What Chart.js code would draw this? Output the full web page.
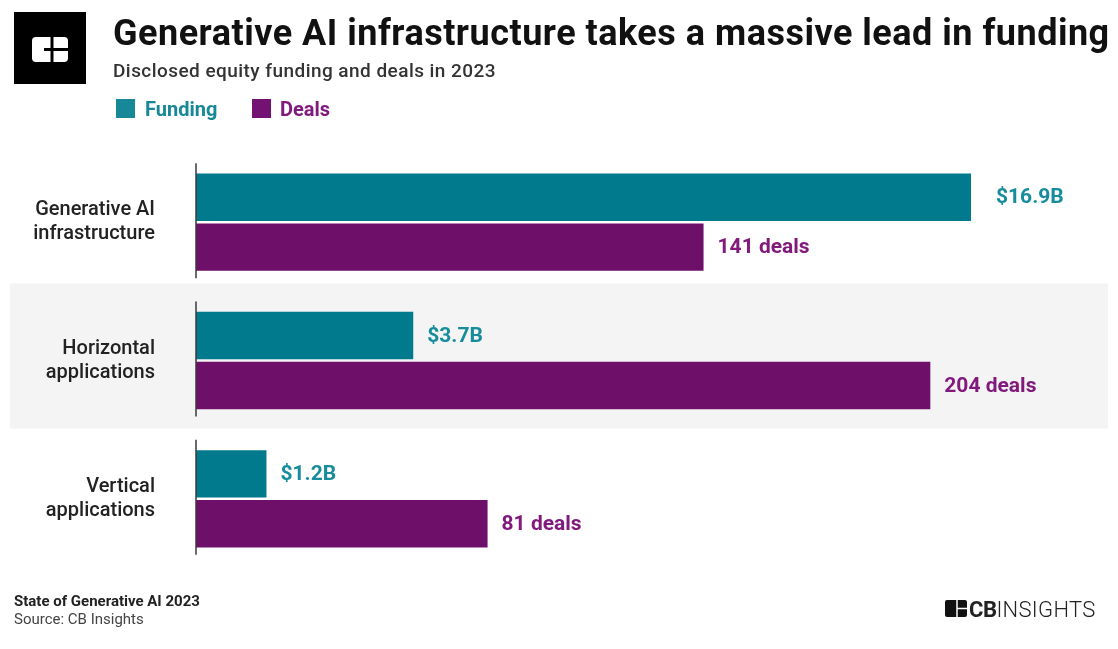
<!DOCTYPE html>
<html>
<head>
<meta charset="utf-8">
<script src="https://cdn.jsdelivr.net/npm/chart.js@4"></script>
<style>
  html, body { margin: 0; padding: 0; background: #fff; }
  body { width: 1118px; height: 649px; position: relative; overflow: hidden; font-family: Roboto, "Noto Sans", sans-serif; }
  .abs { position: absolute; line-height: 1; white-space: nowrap; }
  #wrap { position: absolute; left: 0; top: 0; width: 1118px; height: 649px; }
  .title { left: 113px; top: 15px; font-size: 36px; font-weight: 700; color: #111; letter-spacing: 0.5px; }
  .subtitle { left: 113px; top: 61px; font-size: 19px; font-weight: 500; color: #333; letter-spacing: 0.45px; }
  .legend { top: 99px; font-size: 20px; font-weight: 700; }
  .swatch { position: absolute; width: 19px; height: 19px; top: 99px; }
  .foot1 { left: 14px; top: 594px; font-size: 15px; font-weight: 700; color: #222; }
  .foot2 { left: 14px; top: 612px; font-size: 15px; color: #444; }
  .brand { left: 969px; top: 599px; font-size: 22px; color: #222; letter-spacing: 0.3px; }
  .brand b { font-weight: 700; letter-spacing: -0.5px; }
  .brand span { font-weight: 300; }
</style>
</head>
<body>
<div id="wrap"><canvas id="chart"></canvas></div>

<svg class="abs" style="left:14px;top:12px" width="72" height="72">
  <rect width="72" height="72" fill="#000"/>
  <rect x="18" y="25" width="36" height="25" rx="4" fill="#fff"/>
  <line x1="38" y1="25" x2="38" y2="50" stroke="#000" stroke-width="3"/>
  <line x1="30" y1="37.5" x2="54" y2="37.5" stroke="#000" stroke-width="3"/>
</svg>
<div class="abs title">Generative AI infrastructure takes a massive lead in funding</div>
<div class="abs subtitle">Disclosed equity funding and deals in 2023</div>
<div class="swatch" style="left:116px;background:#178898"></div>
<div class="abs legend" style="left:145px;color:#178898">Funding</div>
<div class="swatch" style="left:252px;background:#741274"></div>
<div class="abs legend" style="left:280px;color:#801a7c">Deals</div>

<div class="abs foot1">State of Generative AI 2023</div>
<div class="abs foot2">Source: CB Insights</div>
<svg class="abs" style="left:945px;top:600px" width="22" height="17">
  <rect width="22" height="17" rx="2" fill="#111"/>
  <line x1="12" y1="0" x2="12" y2="17" stroke="#fff" stroke-width="1.5"/>
  <line x1="12" y1="8.5" x2="22" y2="8.5" stroke="#fff" stroke-width="1.5"/>
</svg>
<div class="abs brand"><b>CB</b><span>INSIGHTS</span></div>

<script>
const categories = [
  ['Generative AI', 'infrastructure'],
  ['Horizontal', 'applications'],
  ['Vertical', 'applications']
];
const fundingBillions = [16.9, 3.7, 1.2];
const dealCounts = [141, 204, 81];

const TEAL = '#007a8c';
const PURPLE = '#6e0f6a';
const TEAL_TEXT = '#178c9c';
const PURPLE_TEXT = '#821a7d';

// light grey band behind the middle row (drawn before the axes so the
// category labels stay on top), plus a short axis stub per row
const rowDecor = {
  id: 'rowDecor',
  beforeDraw(chart) {
    const { ctx, scales: { y } } = chart;
    ctx.save();
    ctx.fillStyle = '#f4f4f4';
    categories.forEach((c, i) => {
      if (i % 2 === 1) {
        const cy = y.getPixelForValue(i);
        ctx.fillRect(10, cy - 77, 1098, 145);
      }
    });
    ctx.restore();
  },
  afterDatasetsDraw(chart) {
    const { ctx, chartArea, scales: { y } } = chart;
    ctx.save();
    ctx.strokeStyle = '#3a3a3a';
    ctx.lineWidth = 1.5;
    categories.forEach((c, i) => {
      const cy = y.getPixelForValue(i);
      ctx.beginPath();
      ctx.moveTo(chartArea.left, cy - 59);
      ctx.lineTo(chartArea.left, cy + 56);
      ctx.stroke();
    });
    ctx.restore();
  }
};

// value labels at the end of each bar
const barLabels = {
  id: 'barLabels',
  afterDatasetsDraw(chart) {
    const { ctx, chartArea } = chart;
    ctx.save();
    ctx.font = 'bold 21px Roboto';
    ctx.textBaseline = 'middle';
    ctx.textAlign = 'left';
    chart.data.datasets.forEach((ds, di) => {
      const meta = chart.getDatasetMeta(di);
      ctx.fillStyle = ds.labelColor;
      meta.data.forEach((bar, i) => {
        const clipped = bar.x > chartArea.right;
        const x = clipped ? chartArea.right + 25 : bar.x + 14;
        ctx.fillText(ds.formatLabel(ds.data[i]), x, bar.y + 1);
      });
    });
    ctx.restore();
  }
};

new Chart(document.getElementById('chart'), {
  type: 'bar',
  data: {
    labels: categories,
    datasets: [
      {
        label: 'Funding',
        data: fundingBillions,
        xAxisID: 'xFunding',
        backgroundColor: TEAL,
        labelColor: TEAL_TEXT,
        formatLabel: v => '$' + v.toFixed(1) + 'B',
        clip: 0
      },
      {
        label: 'Deals',
        data: dealCounts,
        xAxisID: 'xDeals',
        backgroundColor: PURPLE,
        labelColor: PURPLE_TEXT,
        formatLabel: v => v + ' deals',
        clip: 0
      }
    ]
  },
  options: {
    indexAxis: 'y',
    responsive: true,
    maintainAspectRatio: false,
    animation: false,
    categoryPercentage: 0.722,
    barPercentage: 0.95,
    layout: { padding: { top: 153, bottom: 81, left: 0, right: 147 } },
    scales: {
      xFunding: { type: 'linear', position: 'bottom', display: false, min: 0, max: 13.2 },
      xDeals: { type: 'linear', position: 'bottom', display: false, min: 0, max: 215.3 },
      y: {
        afterFit(scale) { scale.width = 196; },
        grid: { display: false, drawTicks: false },
        border: { display: false },
        ticks: {
          color: '#222',
          padding: 41,
          font: { family: 'Roboto', size: 20, weight: '500', lineHeight: 1.2 }
        }
      }
    },
    plugins: {
      legend: { display: false },
      tooltip: { enabled: false }
    }
  },
  plugins: [rowDecor, barLabels]
});
</script>
</body>
</html>
